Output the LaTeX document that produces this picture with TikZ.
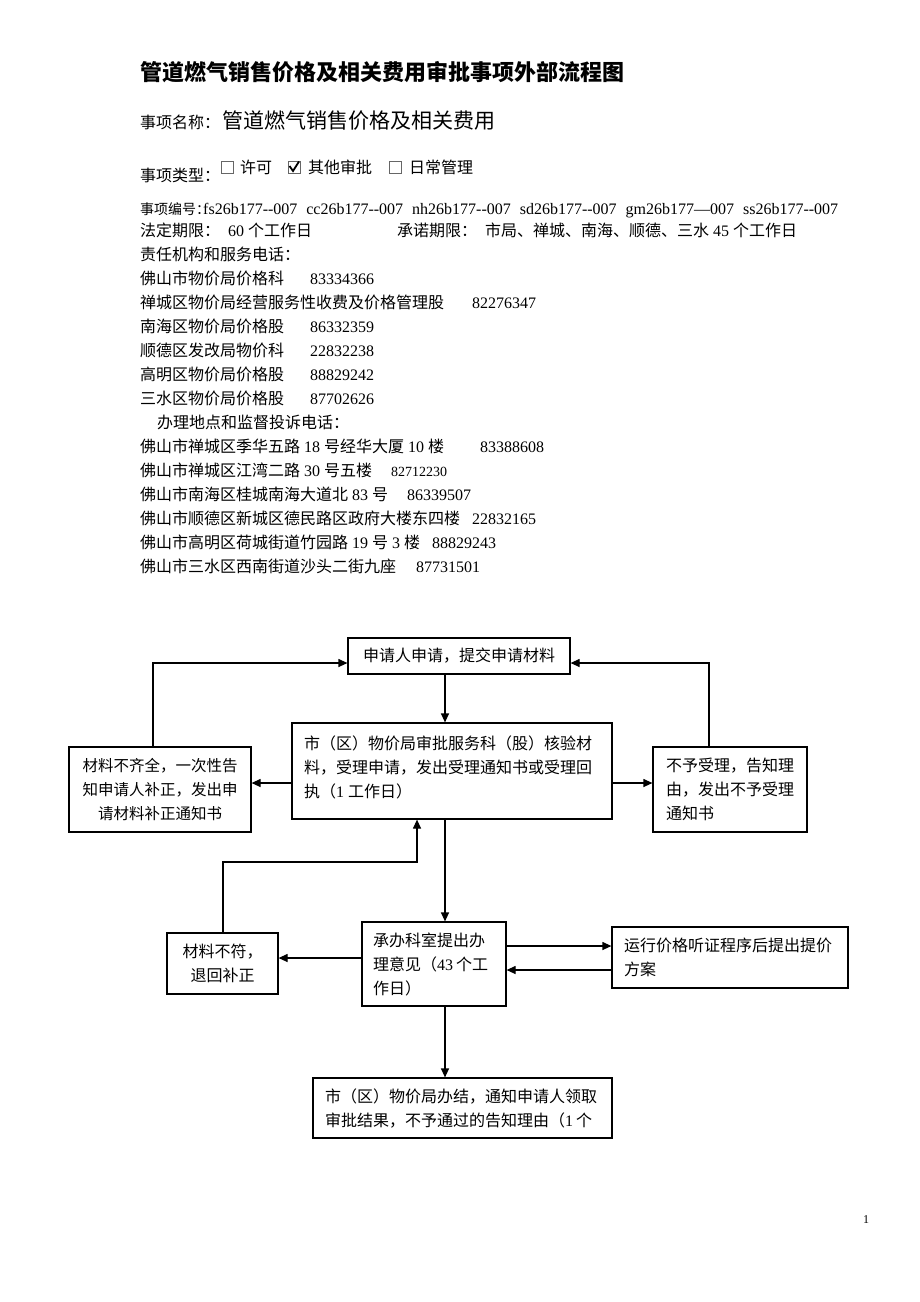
\documentclass[tikz,border=0pt]{standalone}
\usepackage{fontspec}
\setmainfont{Noto Sans CJK SC}
\newfontfamily\lsf{Liberation Serif}
\usetikzlibrary{arrows.meta}
\newcommand\tm[1]{{\lsf #1}}
\newcommand\nm[1]{\hspace{4pt}{\lsf #1}\hspace{4pt}}
\newcommand\dd{\mbox{-}\mbox{-}}
\begin{document}
\begin{tikzpicture}[x=1pt,y=-1pt,
  txt/.style={anchor=base west, inner sep=0pt, font=\fontsize{16}{24}\selectfont},
  box/.style={draw, line width=1.2pt, inner sep=0pt, font=\fontsize{16}{24}\selectfont},
  arr/.style={-{Triangle[length=9pt,width=8pt]}, line width=1.2pt},
  cbox/.style={draw=black!60, line width=0.8pt, minimum size=12pt, inner sep=0pt}]
\fill[white] (0,0) rectangle (920,1302);
% ---------- header ----------
\node[txt, font=\fontsize{22}{26}\selectfont\bfseries] (title) at (140,80) {管道燃气销售价格及相关费用审批事项外部流程图};
\node[txt] (nameL) at (140,128) {事项名称：};
\node[txt, font=\fontsize{21}{26}\selectfont] (nameV) at (222,128) {管道燃气销售价格及相关费用};
\node[txt] (typeL) at (140,181) {事项类型：};
\node[cbox] (cb1) at (227,167) {};
\node[txt] (t1) at (240,173) {许可};
\node[cbox] (cb2) at (294,167) {};
\draw[line width=1.8pt] (289.5,166) -- (293,171) -- (299,161.5);
\node[txt] (t2) at (308,173) {其他审批};
\node[cbox] (cb3) at (395,167) {};
\node[txt] (t3) at (409,173) {日常管理};
\node[txt, font=\fontsize{14}{20}\selectfont] (codeL) at (140,214) {\makebox[62pt][l]{事项编号：}};
\node[txt] (codeV) at (203,214) {\hbox to 635pt{\lsf fs26b177\dd007\hfil cc26b177\dd007\hfil nh26b177\dd007\hfil sd26b177\dd007\hfil gm26b177—007\hfil ss26b177\dd007}};
\node[txt] (lawL) at (140,236) {法定期限：};
\node[txt] (lawV) at (228,236) {\tm{60}\hspace{4pt}个工作日};
\node[txt] (proL) at (397,236) {承诺期限：};
\node[txt] (proV) at (485,236) {市局、禅城、南海、顺德、三水\nm{45}个工作日};
\node[txt] (resp) at (140,260) {责任机构和服务电话：};
\node[txt] (r1) at (140,284) {佛山市物价局价格科};
\node[txt] (p1) at (310,284) {\tm{83334366}};
\node[txt] (r2) at (140,308) {禅城区物价局经营服务性收费及价格管理股};
\node[txt] (p2) at (472,308) {\tm{82276347}};
\node[txt] (r3) at (140,332) {南海区物价局价格股};
\node[txt] (p3) at (310,332) {\tm{86332359}};
\node[txt] (r4) at (140,356) {顺德区发改局物价科};
\node[txt] (p4) at (310,356) {\tm{22832238}};
\node[txt] (r5) at (140,380) {高明区物价局价格股};
\node[txt] (p5) at (310,380) {\tm{88829242}};
\node[txt] (r6) at (140,404) {三水区物价局价格股};
\node[txt] (p6) at (310,404) {\tm{87702626}};
\node[txt] (addr) at (157,428) {办理地点和监督投诉电话：};
\node[txt] (a1) at (140,452) {佛山市禅城区季华五路\nm{18}号经华大厦\nm{10}楼};
\node[txt] (q1) at (480,452) {\tm{83388608}};
\node[txt] (a2) at (140,476) {佛山市禅城区江湾二路\nm{30}号五楼};
\node[txt, font=\fontsize{14}{20}\selectfont] (q2) at (391,476) {\tm{82712230}};
\node[txt] (a3) at (140,500) {佛山市南海区桂城南海大道北\nm{83}号};
\node[txt] (q3) at (407,500) {\tm{86339507}};
\node[txt] (a4) at (140,524) {佛山市顺德区新城区德民路区政府大楼东四楼};
\node[txt] (q4) at (472,524) {\tm{22832165}};
\node[txt] (a5) at (140,548) {佛山市高明区荷城街道竹园路\nm{19}号\nm{3}楼};
\node[txt] (q5) at (432,548) {\tm{88829243}};
\node[txt] (a6) at (140,572) {佛山市三水区西南街道沙头二街九座};
\node[txt] (q6) at (416,572) {\tm{87731501}};
\node[txt, font=\fontsize{12}{14}\selectfont] (pg) at (863,1223) {\tm{1}};
% ---------- flowchart boxes ----------
\node[box, minimum width=222pt, minimum height=36pt] (A) at (459,656) {申请人申请，提交申请材料};
\node[box, minimum width=320pt, minimum height=96pt, text width=296pt, align=left] (B) at (452,771)
  {市（区）物价局审批服务科（股）核验材\\料，受理申请，发出受理通知书或受理回\\执（\tm{1}\hspace{4pt}工作日）\\[-16pt]\mbox{}};
\node[box, minimum width=182pt, minimum height=85pt, text width=160pt, align=center, font=\fontsize{15.5}{24}\selectfont] (L1) at (160,789.5)
  {材料不齐全，一次性告\\知申请人补正，发出申\\请材料补正通知书};
\node[box, minimum width=154pt, minimum height=85pt, text width=128pt, align=left] (R1) at (730,789.5)
  {不予受理，告知理\\由，发出不予受理\\通知书};
\node[box, minimum width=144pt, minimum height=84pt, text width=122pt, align=left] (C) at (434,964)
  {承办科室提出办\\理意见（\tm{43}\hspace{3pt}个工\\作日）};
\node[box, minimum width=111pt, minimum height=61pt, text width=90pt, align=center] (L2) at (222.5,963.5)
  {材料不符，\\退回补正};
\node[box, minimum width=236pt, minimum height=61pt, text width=212pt, align=left] (R2) at (730,957.5)
  {运行价格听证程序后提出提价\\方案};
\node[box, minimum width=299pt, minimum height=60pt, text width=275pt, align=left] (D) at (462.5,1108)
  {市（区）物价局办结，通知申请人领取\\审批结果，不予通过的告知理由（\tm{1}\hspace{3pt}个};
% ---------- helper coordinates ----------
\coordinate (vx) at (445,0);
\coordinate (ty) at (0,663);
\coordinate (hy) at (0,783);
\coordinate (lx) at (153,0);
\coordinate (rx) at (709,0);
\coordinate (l2x) at (223,0);
\coordinate (ux) at (417,0);
\coordinate (ry) at (0,862);
\coordinate (cl) at (0,958);
\coordinate (cr1) at (0,946);
\coordinate (cr2) at (0,970);
% ---------- connectors ----------
\draw[arr] (A.south -| vx) -- (B.north -| vx);
\draw[arr] (B.west |- hy) -- (L1.east |- hy);
\draw[arr] (B.east |- hy) -- (R1.west |- hy);
\draw[arr] (L1.north -| lx) |- (A.west |- ty);
\draw[arr] (R1.north -| rx) |- (A.east |- ty);
\draw[arr] (B.south -| vx) -- (C.north -| vx);
\draw[arr] (L2.north -| l2x) |- (ux |- ry) -- (B.south -| ux);
\draw[arr] (C.west |- cl) -- (L2.east |- cl);
\draw[arr] (C.east |- cr1) -- (R2.west |- cr1);
\draw[arr] (R2.west |- cr2) -- (C.east |- cr2);
\draw[arr] (C.south -| vx) -- (D.north -| vx);
\end{tikzpicture}
\end{document}
